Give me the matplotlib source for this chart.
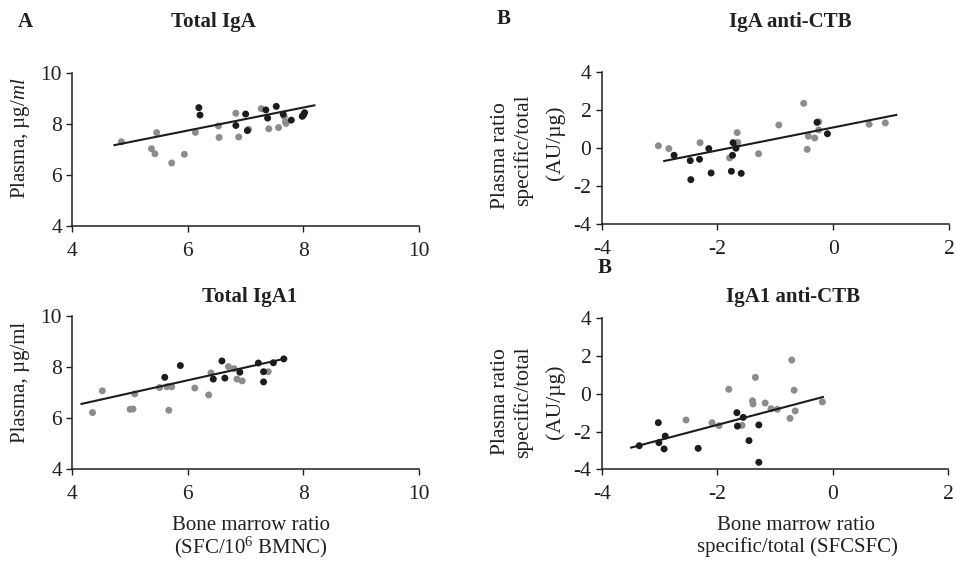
import matplotlib
matplotlib.use("Agg")
import matplotlib.pyplot as plt

plt.rcParams['font.family'] = ['Liberation Serif', 'DejaVu Serif']
plt.rcParams['mathtext.fontset'] = 'custom'
plt.rcParams['mathtext.rm'] = 'Liberation Serif'
plt.rcParams['mathtext.it'] = 'Liberation Serif:italic'
plt.rcParams['axes.unicode_minus'] = False

# ---------------- data ----------------
# Panel A top: Total IgA
a1_gray_x = [4.85, 5.46, 5.37, 5.43, 5.72, 5.94, 6.13, 6.53, 6.54, 6.83, 6.88, 7.05,
             7.27, 7.40, 7.57, 7.67, 7.69, 7.70]
a1_gray_y = [7.29, 7.65, 7.02, 6.82, 6.46, 6.80, 7.66, 7.91, 7.46, 8.41, 7.48, 7.78,
             8.59, 7.80, 7.85, 8.27, 8.07, 8.01]
a1_black_x = [6.19, 6.21, 6.83, 7.00, 7.03, 7.35, 7.38, 7.53, 7.65, 7.79, 7.98, 8.02, 8.00]
a1_black_y = [8.63, 8.34, 7.93, 8.38, 7.73, 8.54, 8.22, 8.68, 8.37, 8.14, 8.29, 8.43, 8.34]
a1_line_x = [4.73, 8.19]
a1_line_y = [7.16, 8.72]

# Panel A bottom: Total IgA1
a2_gray_x = [4.35, 4.52, 5.00, 5.05, 5.08, 5.51, 5.64, 5.72, 5.67, 6.12, 6.36, 6.40,
             6.70, 6.80, 6.85, 6.94, 7.39]
a2_gray_y = [6.22, 7.07, 6.35, 6.36, 6.95, 7.20, 7.23, 7.23, 6.31, 7.18, 6.91, 7.77,
             8.02, 7.94, 7.53, 7.46, 7.82]
a2_black_x = [5.60, 5.87, 6.44, 6.59, 6.64, 6.90, 7.22, 7.31, 7.31, 7.48, 7.66]
a2_black_y = [7.60, 8.06, 7.53, 8.24, 7.57, 7.80, 8.16, 7.82, 7.42, 8.17, 8.32]
a2_line_x = [4.16, 7.70]
a2_line_y = [6.56, 8.34]

# Panel B top: IgA anti-CTB
b1_gray_x = [-3.02, -2.84, -2.30, -1.66, -1.65, -1.79, -1.29, -0.94, -0.51, -0.43,
             -0.45, -0.32, -0.25, -0.25, 0.62, 0.90]
b1_gray_y = [0.11, -0.04, 0.27, 0.80, 0.29, -0.53, -0.31, 1.20, 2.34, 0.61,
             -0.08, 0.52, 1.37, 0.94, 1.24, 1.31]
b1_black_x = [-2.75, -2.47, -2.46, -2.31, -2.15, -2.11, -1.76, -1.74, -1.73, -1.68,
              -1.59, -0.28, -0.10]
b1_black_y = [-0.39, -0.67, -1.67, -0.60, -0.04, -1.32, -1.23, -0.39, 0.27, -0.02,
              -1.34, 1.34, 0.74]
b1_line_x = [-2.92, 1.09]
b1_line_y = [-0.69, 1.73]

# Panel B bottom: IgA1 anti-CTB
b2_gray_x = [-2.54, -2.09, -1.97, -1.80, -1.57, -1.39, -1.38, -1.34, -1.17, -1.07,
             -0.96, -0.74, -0.71, -0.67, -0.65, -0.18]
b2_gray_y = [-1.39, -1.53, -1.69, 0.24, -1.67, -0.37, -0.54, 0.87, -0.49, -0.79,
             -0.82, -1.30, 1.79, 0.19, -0.91, -0.43]
b2_black_x = [-3.35, -3.02, -3.01, -2.92, -2.90, -2.33, -1.66, -1.65, -1.55, -1.45,
              -1.28, -1.28]
b2_black_y = [-2.75, -1.53, -2.59, -2.92, -2.24, -2.89, -1.00, -1.71, -1.25, -2.48,
              -1.65, -3.63]
b2_line_x = [-3.49, -0.17]
b2_line_y = [-2.85, -0.17]

a_xticks = [4, 6, 8, 10]
a_yticks = [4, 6, 8, 10]
b_xticks = [-4, -2, 0, 2]
b_yticks = [-4, -2, 0, 2, 4]

# ---------------- figure ----------------
W, H = 956, 563
fig = plt.figure(figsize=(W / 100, H / 100), dpi=100)

GRAY = '#8c8c8c'
BLACK = '#1c1c1c'
TXT = '#231f20'


def px_axes(l, t, r, b):
    return fig.add_axes([l / W, 1 - b / H, (r - l) / W, (b - t) / H])


def style(ax, xt, yt):
    for s in ['top', 'right']:
        ax.spines[s].set_visible(False)
    for s in ['left', 'bottom']:
        ax.spines[s].set_linewidth(1.1)
        ax.spines[s].set_color(TXT)
    ax.set_xlim(xt[0], xt[-1])
    ax.set_ylim(yt[0], yt[-1])
    ax.set_xticks(xt)
    ax.set_yticks(yt)
    ax.tick_params(axis='both', direction='out', length=4.5, width=1.0,
                   color=TXT, labelcolor=TXT, labelsize=15.5)
    ax.tick_params(axis='x', pad=7)
    ax.tick_params(axis='y', pad=3)
    ax.patch.set_alpha(0)


def draw(ax, gx, gy, bx, by, lx, ly):
    ax.scatter(gx, gy, s=25, color=GRAY, edgecolors='none', zorder=3, clip_on=False)
    ax.scatter(bx, by, s=25, color=BLACK, edgecolors='none', zorder=4, clip_on=False)
    ax.plot(lx, ly, color=BLACK, lw=1.5, zorder=5)


ax1 = px_axes(72.3, 72.7, 419, 225.7)
style(ax1, a_xticks, a_yticks)
draw(ax1, a1_gray_x, a1_gray_y, a1_black_x, a1_black_y, a1_line_x, a1_line_y)

ax2 = px_axes(72.3, 316, 419, 469.3)
style(ax2, a_xticks, a_yticks)
draw(ax2, a2_gray_x, a2_gray_y, a2_black_x, a2_black_y, a2_line_x, a2_line_y)

ax3 = px_axes(601.7, 71.7, 949, 224)
style(ax3, b_xticks, b_yticks)
draw(ax3, b1_gray_x, b1_gray_y, b1_black_x, b1_black_y, b1_line_x, b1_line_y)

ax4 = px_axes(601.7, 318.3, 948.3, 469.3)
style(ax4, b_xticks, b_yticks)
draw(ax4, b2_gray_x, b2_gray_y, b2_black_x, b2_black_y, b2_line_x, b2_line_y)


def ftext(x, y, s, **kw):
    kw.setdefault('ha', 'center')
    kw.setdefault('va', 'center')
    kw.setdefault('color', TXT)
    fig.text(x / W, 1 - y / H, s, **kw)


# Panel letters and titles
ftext(25, 22, 'A', fontsize=15, fontweight='bold')
ftext(213, 22, 'Total IgA', fontsize=15, fontweight='bold')
ftext(250, 297, 'Total IgA1', fontsize=15, fontweight='bold')
ftext(504, 19, 'B', fontsize=15, fontweight='bold')
ftext(790, 22, 'IgA anti-CTB', fontsize=15, fontweight='bold')
ftext(605, 268, 'B', fontsize=15, fontweight='bold')
ftext(793, 297, 'IgA1 anti-CTB', fontsize=15, fontweight='bold')

# Y labels
ftext(21, 138, r'Plasma, µg/$\mathit{ml}$', fontsize=15, rotation=90)
ftext(21, 382, 'Plasma, µg/ml', fontsize=15, rotation=90)
for yc, dy in [(150, (6, 0, -7)), (402, (0, 0, 0))]:
    ftext(501, yc + dy[0], 'Plasma ratio', fontsize=15.5, rotation=90)
    ftext(523, yc + dy[1], 'specific/total', fontsize=15.5, rotation=90)
    ftext(555, yc + dy[2], '(AU/µg)', fontsize=15.5, rotation=90)

# X labels
ftext(251, 525, 'Bone marrow ratio', fontsize=15)
ftext(251, 547, r'(SFC/10$^{6}$ BMNC)', fontsize=15)
ftext(796, 525, 'Bone marrow ratio', fontsize=15)
ftext(797, 547, 'specific/total (SFCSFC)', fontsize=15)

fig.savefig('out.png', dpi=100)
